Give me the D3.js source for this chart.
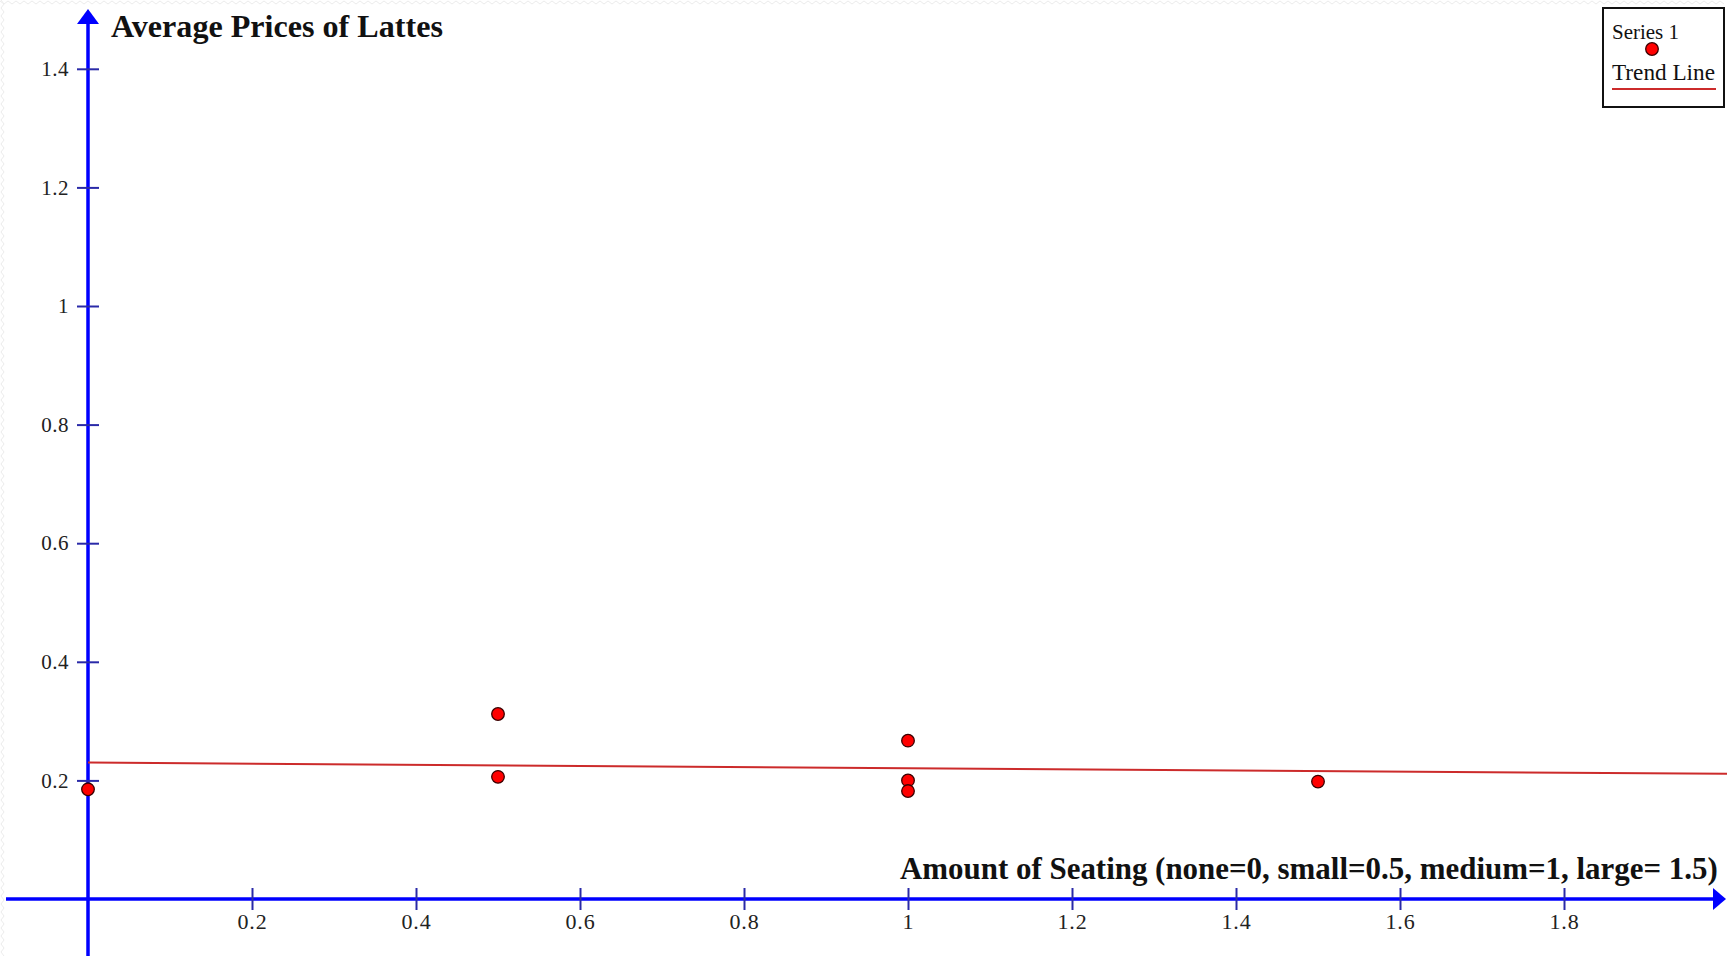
<!DOCTYPE html>
<html>
<head>
<meta charset="utf-8">
<script src="https://cdn.jsdelivr.net/npm/d3@7/dist/d3.min.js"></script>
<style>
  html, body { margin: 0; padding: 0; background: #ffffff; overflow: hidden; }
  svg { display: block; }
</style>
</head>
<body>
<svg id="chart" width="1727" height="956"></svg>
<script>
// ---- data ----
const seatingX = [0, 0.5, 0.5, 1, 1, 1, 1.5];
const latteY   = [0.185, 0.312, 0.206, 0.267, 0.200, 0.182, 0.198];
const trendX   = [0, 2];
const trendY   = [0.230, 0.211];
const xTickValues = [0.2, 0.4, 0.6, 0.8, 1, 1.2, 1.4, 1.6, 1.8];
const xTickLabels = ["0.2", "0.4", "0.6", "0.8", "1", "1.2", "1.4", "1.6", "1.8"];
const yTickValues = [0.2, 0.4, 0.6, 0.8, 1, 1.2, 1.4];
const yTickLabels = ["0.2", "0.4", "0.6", "0.8", "1", "1.2", "1.4"];
const titleY = "Average Prices of Lattes";
const titleX = "Amount of Seating (none=0, small=0.5, medium=1, large= 1.5)";
const legendLabels = ["Series 1", "Trend Line"];

// ---- layout ----
const W = 1727, H = 956;
const svg = d3.select("#chart");
const x = d3.scaleLinear().domain([0, 2]).range([88, 1728]);
const y = d3.scaleLinear().domain([0, 1.5]).range([899, 9.5]);

const axisBlue = "#0000ff";
const tickBlue = "#2a2aa8";
const serif = "'Liberation Serif', 'Times New Roman', serif";

// faint wavy page edge (top and left)
function zig(len, horizontal) {
  let p = "";
  for (let i = 0; i <= len; i += 4) {
    const o = (i / 4) % 2 === 0 ? 1 : 4;
    p += (i === 0 ? "M" : "L") + (horizontal ? `${i},${o}` : `${o},${i}`);
  }
  return p;
}
svg.append("path").attr("d", zig(W, true)).attr("fill", "none").attr("stroke", "#ececec").attr("stroke-width", 1);
svg.append("path").attr("d", zig(H, false)).attr("fill", "none").attr("stroke", "#ececec").attr("stroke-width", 1);

// ---- axes through the origin ----
const x0 = x(0), y0 = y(0);

svg.append("line").attr("x1", 6).attr("x2", W - 12).attr("y1", y0).attr("y2", y0)
  .attr("stroke", axisBlue).attr("stroke-width", 3.5);
svg.append("path")
  .attr("d", `M${W - 14},${y0 - 11} L${W - 1},${y0} L${W - 14},${y0 + 11} Z`)
  .attr("fill", axisBlue);

svg.append("line").attr("x1", x0).attr("x2", x0).attr("y1", H).attr("y2", 22)
  .attr("stroke", axisBlue).attr("stroke-width", 3.5);
svg.append("path")
  .attr("d", `M${x0 - 11},${24} L${x0},${9} L${x0 + 11},${24} Z`)
  .attr("fill", axisBlue);

// x ticks
const xAxis = d3.axisBottom(x).tickValues(xTickValues)
  .tickFormat((d, i) => xTickLabels[i]).tickSize(11).tickPadding(7).tickSizeOuter(0);
const gx = svg.append("g").attr("transform", `translate(0,${y0})`).call(xAxis);
gx.select(".domain").remove();
gx.selectAll(".tick line").attr("y1", -11).attr("y2", 11).attr("stroke", tickBlue).attr("stroke-width", 2);
gx.selectAll(".tick text").attr("font-family", serif).attr("font-size", 22)
  .attr("fill", "#222").attr("dy", "0.71em").attr("y", 14).attr("letter-spacing", "0.8px");

// y ticks
const yAxis = d3.axisLeft(y).tickValues(yTickValues)
  .tickFormat((d, i) => yTickLabels[i]).tickSize(11).tickPadding(8).tickSizeOuter(0);
const gy = svg.append("g").attr("transform", `translate(${x0},0)`).call(yAxis);
gy.select(".domain").remove();
gy.selectAll(".tick line").attr("x1", -11).attr("x2", 11).attr("stroke", tickBlue).attr("stroke-width", 2);
gy.selectAll(".tick text").attr("font-family", serif).attr("font-size", 21)
  .attr("fill", "#222").attr("x", -19).attr("letter-spacing", "0.5px");

function fit(sel, target) {
  const w = sel.node().getComputedTextLength();
  const fs = parseFloat(sel.attr("font-size"));
  sel.attr("font-size", fs * target / w);
}

// axis titles
const ty = svg.append("text").attr("x", 111).attr("y", 37)
  .attr("font-family", serif).attr("font-weight", "bold").attr("font-size", 26)
  .attr("fill", "#111").text(titleY);
fit(ty, 332);

const tx = svg.append("text").attr("x", 900).attr("y", 879)
  .attr("font-family", serif).attr("font-weight", "bold").attr("font-size", 26)
  .attr("fill", "#111").text(titleX);
fit(tx, 818);

// trend line
const trendData = trendX.map((v, i) => [v, trendY[i]]);
svg.append("path").datum(trendData)
  .attr("d", d3.line().x(d => x(d[0])).y(d => y(d[1])))
  .attr("fill", "none").attr("stroke", "#cc2b2b").attr("stroke-width", 2);

// points
const pts = seatingX.map((v, i) => ({ x: v, y: latteY[i] }));
svg.append("g").selectAll("circle").data(pts).join("circle")
  .attr("cx", d => x(d.x)).attr("cy", d => y(d.y)).attr("r", 6.3)
  .attr("fill", "#ff0000").attr("stroke", "#3a0000").attr("stroke-width", 1.3);

// legend
const lg = svg.append("g");
lg.append("rect").attr("x", 1603).attr("y", 8).attr("width", 121).attr("height", 99)
  .attr("fill", "#fff").attr("stroke", "#111").attr("stroke-width", 2);
const l1 = lg.append("text").attr("x", 1612).attr("y", 39).attr("font-family", serif)
  .attr("font-size", 20).attr("fill", "#111").text(legendLabels[0]);
fit(l1, 67);
lg.append("circle").attr("cx", 1652).attr("cy", 49).attr("r", 6.3)
  .attr("fill", "#ff0000").attr("stroke", "#3a0000").attr("stroke-width", 1.3);
const l2 = lg.append("text").attr("x", 1612).attr("y", 80).attr("font-family", serif)
  .attr("font-size", 20).attr("fill", "#111").text(legendLabels[1]);
fit(l2, 103);
lg.append("line").attr("x1", 1612).attr("x2", 1716).attr("y1", 89).attr("y2", 89)
  .attr("stroke", "#cc2b2b").attr("stroke-width", 2);
</script>
</body>
</html>
